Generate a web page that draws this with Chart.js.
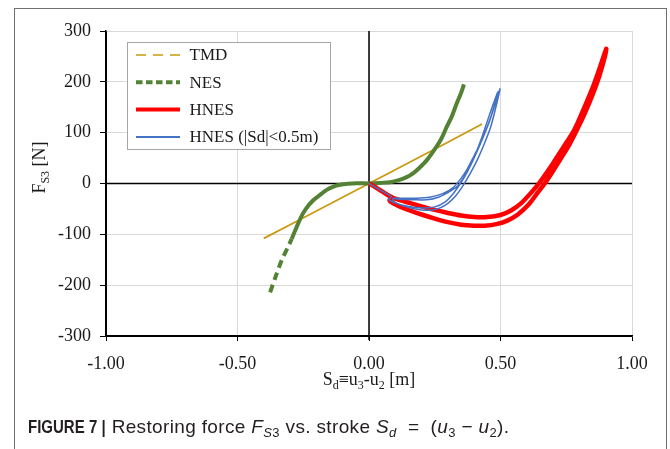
<!DOCTYPE html>
<html><head><meta charset="utf-8">
<script src="https://cdn.jsdelivr.net/npm/chart.js@4.4.1/dist/chart.umd.min.js"></script>
<style>
html,body{margin:0;padding:0;background:#fff;width:670px;height:449px;overflow:hidden}
#wrap{position:absolute;left:0;top:0;width:670px;height:449px}
#frame{position:absolute;left:14px;top:8px;width:653px;height:470px;border:1px solid #6f6f6f;box-sizing:border-box}
#cap{position:absolute;left:28px;top:417px;font-family:"Liberation Sans",Arial,sans-serif;font-size:19px;letter-spacing:0.35px;color:#231f20;white-space:nowrap;line-height:20px}
#cap sub{font-size:13px;vertical-align:-4px;line-height:0}
#fig{display:inline-block;width:78px;transform:scaleX(0.79);transform-origin:0 50%;letter-spacing:0}
</style></head>
<body>
<div id="frame"></div>
<div id="wrap"><canvas id="c"></canvas></div>
<div id="cap"><b id="fig">FIGURE&nbsp;7&nbsp;|</b> Restoring force <i>F</i><sub><i>S</i>3</sub> vs. stroke <i>S</i><sub><i>d</i></sub> &nbsp;=&nbsp; (<i>u</i><sub>3</sub> − <i>u</i><sub>2</sub>).</div>
<script>
// ---- axis ticks ----
const xTickValues = [-1, -0.5, 0, 0.5, 1];
const xTickLabels = ['-1.00', '-0.50', '0.00', '0.50', '1.00'];
const yTickValues = [-300, -200, -100, 0, 100, 200, 300];
const yTickLabels = ['-300', '-200', '-100', '0', '100', '200', '300'];

// ---- series labels ----
const seriesNames = ['TMD', 'NES', 'HNES', 'HNES (|Sd|<0.5m)'];

// ---- TMD (stroke m, force N) ----
const tmdX = [-0.40, -0.30, -0.20, -0.10, 0.00, 0.10, 0.20, 0.30, 0.43];
const tmdF = [-108, -81, -54, -27, 0, 27, 54, 81, 117];

// ---- NES ----
const nesX = [-0.376, -0.355, -0.332, -0.31, -0.294, -0.262, -0.24, -0.212, -0.18, -0.161, -0.135, -0.11, -0.08, -0.047, 0.0, 0.04, 0.08, 0.11, 0.143, 0.17, 0.194, 0.22, 0.251, 0.275, 0.295, 0.315, 0.333, 0.35, 0.361];
const nesF = [-214, -183, -151, -127, -109, -70, -50, -33, -20, -12.5, -6, -2.6, -0.5, 0.5, 0, 1, 2.6, 6, 12.5, 21, 32, 46, 68, 88, 111, 132, 157, 178, 195];

// ---- HNES ----
const hnesX = [0, 0.03, 0.06, 0.09, 0.12, 0.16, 0.2, 0.25, 0.3, 0.35, 0.4, 0.45, 0.5, 0.54, 0.58, 0.62, 0.65, 0.7, 0.75, 0.777, 0.8, 0.85, 0.875, 0.902,
               0.898, 0.876, 0.852, 0.818, 0.789, 0.759, 0.728, 0.698, 0.668, 0.637, 0.606, 0.566, 0.526, 0.484, 0.44, 0.4, 0.35, 0.3, 0.25, 0.2, 0.16, 0.12, 0.1, 0.085, 0.078, 0.09];
const hnesF = [0, -9, -19, -28, -33, -39, -45, -52, -58, -63, -66, -66, -62, -53, -38, -16, 3, 40, 80, 102, 127, 188, 224, 265,
               252, 212, 177, 135, 104, 74, 48, 23, 0, -21, -42, -61, -73, -80, -83, -83, -81, -76, -69, -61, -54, -46, -41, -37, -32, -28];

// ---- HNES (|Sd|<0.5m) ----
const hnesSmallX = [0, 0.03, 0.06, 0.085, 0.075, 0.085, 0.12, 0.16, 0.2, 0.24, 0.27, 0.3, 0.33, 0.355, 0.385, 0.415, 0.44, 0.462, 0.48, 0.498,
                    0.485, 0.46, 0.435, 0.41, 0.385, 0.36, 0.335, 0.3, 0.264, 0.22, 0.17, 0.12, 0.09,
                    0.1, 0.15, 0.2, 0.25, 0.29, 0.32, 0.345, 0.375, 0.4, 0.43, 0.458, 0.49,
                    0.475, 0.45, 0.425, 0.4, 0.375, 0.35, 0.32, 0.28, 0.23, 0.18, 0.13, 0.09];
const hnesSmallF = [0, -9, -18, -26, -31, -35, -42, -48, -52, -52, -48, -39, -24, -6, 20, 50, 80, 110, 145, 186,
                    165, 125, 92, 62, 34, 12, -6, -18, -27, -32, -32, -31, -30,
                    -38, -45, -48, -46, -36, -20, -2, 24, 52, 92, 135, 180,
                    150, 112, 80, 55, 30, 10, -8, -20, -27, -29, -29, -29];

const toPts = (xs, ys) => xs.map((x, i) => ({ x: x, y: ys[i] }));

const serif = '"Liberation Serif", "Times New Roman", serif';
const textColor = '#1a1a1a';

const legendStyle = [
  { color: '#C99A0E', width: 1.5, dash: [10, 7] },
  { color: '#548235', width: 4, dash: [6.5, 3.5] },
  { color: '#FF0000', width: 4, dash: [] },
  { color: '#4472C4', width: 2, dash: [] }
];

const extras = {
  id: 'extras',
  beforeDatasetsDraw(chart) {
    const ctx = chart.ctx, a = chart.chartArea;
    const x0 = chart.scales.x.getPixelForValue(0);
    const y0 = chart.scales.y.getPixelForValue(0);
    ctx.save();
    ctx.strokeStyle = '#000';
    ctx.lineWidth = 1.5;
    ctx.beginPath();
    ctx.moveTo(x0, a.top); ctx.lineTo(x0, a.bottom + 4);
    ctx.moveTo(a.left, y0); ctx.lineTo(a.right, y0);
    ctx.stroke();
    ctx.restore();
  },
  afterDraw(chart) {
    const ctx = chart.ctx, a = chart.chartArea;
    ctx.save();
    // legend box
    const bx = a.left + 21, by = a.top + 11, bw = 203, bh = 107;
    ctx.fillStyle = '#fff';
    ctx.fillRect(bx, by, bw, bh);
    ctx.strokeStyle = '#a6a6a6';
    ctx.lineWidth = 1;
    ctx.strokeRect(bx + 0.5, by + 0.5, bw, bh);
    ctx.font = '17px ' + serif;
    ctx.textBaseline = 'middle';
    ctx.fillStyle = textColor;
    seriesNames.forEach((name, i) => {
      const yy = by + 13 + i * 27.3;
      const st = legendStyle[i];
      ctx.save();
      ctx.strokeStyle = st.color;
      ctx.lineWidth = st.width;
      ctx.setLineDash(st.dash);
      ctx.beginPath();
      ctx.moveTo(bx + 9, yy); ctx.lineTo(bx + 53, yy);
      ctx.stroke();
      ctx.restore();
      ctx.fillText(name, bx + 62.5, yy + 1);
    });
    // axis titles with subscripts
    const big = '18px ' + serif, small = '12px ' + serif;
    function drawRich(parts, cx, baseY) {
      let w = 0;
      parts.forEach(p => { ctx.font = p[1] ? small : big; w += ctx.measureText(p[0]).width; });
      let x = cx - w / 2;
      ctx.textBaseline = 'alphabetic';
      ctx.textAlign = 'left';
      parts.forEach(p => {
        ctx.font = p[1] ? small : big;
        ctx.fillText(p[0], x, baseY + (p[1] ? 4 : 0));
        x += ctx.measureText(p[0]).width;
      });
    }
    ctx.fillStyle = textColor;
    drawRich([['S', 0], ['d', 1], ['\u2261u', 0], ['3', 1], ['-u', 0], ['2', 1], [' [m]', 0]], (a.left + a.right) / 2, a.bottom + 49);
    ctx.save();
    ctx.translate(a.left - 61, (a.top + a.bottom) / 2 - 16);
    ctx.rotate(-Math.PI / 2);
    drawRich([['F', 0], ['S3', 1], [' [N]', 0]], 0, 0);
    ctx.restore();
    ctx.restore();
  }
};

new Chart(document.getElementById('c'), {
  type: 'scatter',
  data: {
    datasets: [
      { label: seriesNames[0], data: toPts(tmdX, tmdF), showLine: true, borderColor: '#C99A0E', borderWidth: 1.8, pointRadius: 0, tension: 0, order: 4 },
      { label: seriesNames[1], data: toPts(nesX, nesF), showLine: true, borderColor: '#548235', borderWidth: 4, pointRadius: 0, tension: 0.3, order: 3,
        segment: { borderDash: c => (c.p1.parsed.x < -0.29 ? [8, 5] : undefined) } },
      { label: seriesNames[2], data: toPts(hnesX, hnesF), showLine: true, borderColor: '#FF0000', borderWidth: 4.5, pointRadius: 0, tension: 0.25, order: 2 },
      { label: seriesNames[3], data: toPts(hnesSmallX, hnesSmallF), showLine: true, borderColor: '#4472C4', borderWidth: 1.5, pointRadius: 0, tension: 0.25, order: 1 }
    ]
  },
  options: {
    responsive: true,
    maintainAspectRatio: false,
    animation: false,
    layout: { padding: { left: 0, top: 31, right: 38, bottom: 0 } },
    plugins: { legend: { display: false }, tooltip: { enabled: false } },
    scales: {
      x: {
        type: 'linear', min: -1, max: 1,
        afterBuildTicks: s => { s.ticks = xTickValues.map(v => ({ value: v })); },
        afterFit: s => { s.height = 113; },
        ticks: { callback: (v, i) => xTickLabels[i], font: { family: serif, size: 18 }, color: textColor, padding: 12, maxRotation: 0, autoSkip: false },
        grid: { color: c => (c.tick && c.tick.value === -1 ? '#000' : '#d9d9d9'), lineWidth: 1, tickLength: 5, tickColor: '#000' },
        border: { color: '#000', width: 1.5 }
      },
      y: {
        type: 'linear', min: -300, max: 300,
        afterBuildTicks: s => { s.ticks = yTickValues.map(v => ({ value: v })); },
        afterFit: s => { s.width = 106; },
        ticks: { callback: (v, i) => yTickLabels[i], font: { family: serif, size: 18 }, color: textColor, padding: 9, autoSkip: false },
        grid: { color: c => (c.tick && c.tick.value === -300 ? '#000' : '#d9d9d9'), lineWidth: 1, tickLength: 6, tickColor: '#000' },
        border: { color: '#000', width: 1.5 }
      }
    }
  },
  plugins: [extras]
});
</script>
</body></html>
